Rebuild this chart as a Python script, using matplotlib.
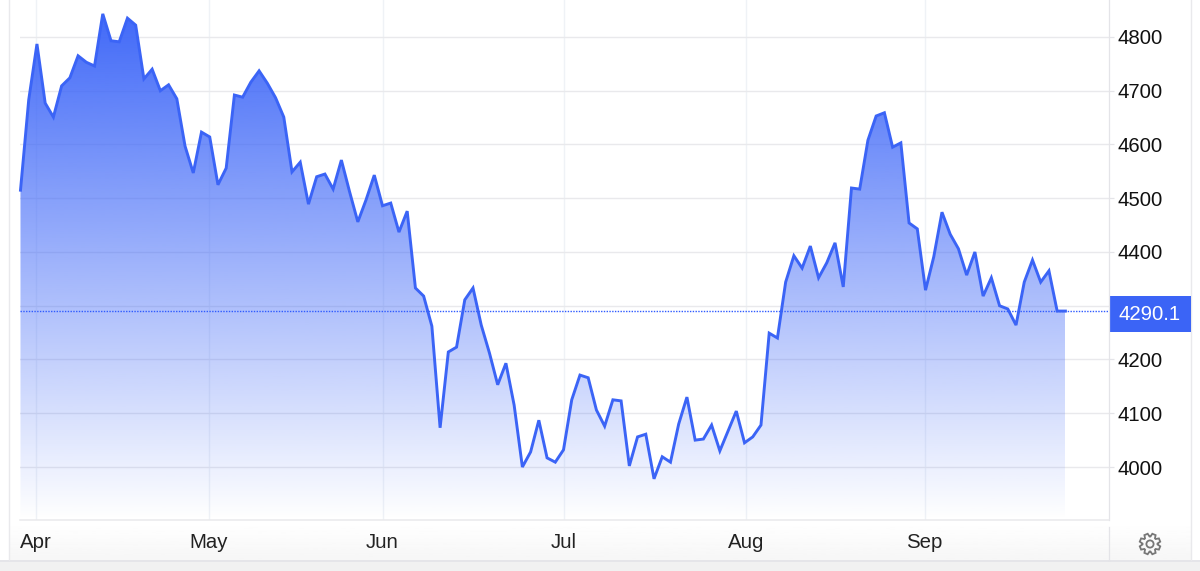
import numpy as np
import matplotlib
matplotlib.use("Agg")
import matplotlib.pyplot as plt
from matplotlib.patches import Rectangle, Circle, Polygon

plt.rcParams['font.family'] = ['Liberation Sans', 'DejaVu Sans']

values = [4515, 4683, 4787, 4677, 4651, 4709, 4724, 4765, 4753, 4746, 4843, 4793, 4791,
          4835, 4822, 4722, 4740, 4700, 4711, 4685, 4597, 4547, 4623, 4614, 4525, 4556,
          4692, 4688, 4716, 4737, 4714, 4687, 4651, 4549, 4567, 4489, 4540, 4545, 4517,
          4571, 4512, 4456, 4497, 4543, 4486, 4491, 4437, 4476, 4333, 4318, 4262, 4073,
          4214, 4223, 4311, 4333, 4264, 4212, 4153, 4193, 4115, 4000, 4028, 4087, 4017,
          4009, 4032, 4125, 4171, 4166, 4106, 4076, 4125, 4123, 4002, 4056, 4061, 3978,
          4019, 4009, 4080, 4130, 4050, 4052, 4078, 4030, 4067, 4104, 4045, 4056, 4078,
          4249, 4240, 4344, 4393, 4370, 4411, 4352, 4380, 4417, 4335, 4519, 4517, 4608,
          4653, 4659, 4595, 4603, 4454, 4443, 4329, 4391, 4474, 4433, 4406, 4357, 4400,
          4318, 4352, 4300, 4294, 4264, 4344, 4385, 4344, 4365, 4290.1, 4290.1]
month_pos = [1.9, 22.9, 44.0, 66.0, 88.2, 109.9]
month_labels = ['Apr', 'May', 'Jun', 'Jul', 'Aug', 'Sep']
y_ticks = [4000, 4100, 4200, 4300, 4400, 4500, 4600, 4700, 4800]
y_labels = ['4000', '4100', '4200', '', '4400', '4500', '4600', '4700', '4800']

blue = '#3b64f6'
x = np.arange(len(values))
ybot, ytop = 3901.4, 4868.8

fig = plt.figure(figsize=(12, 5.71), dpi=100, facecolor='w')

# page furniture, in pixel coordinates
bg = fig.add_axes([0, 0, 1, 1], zorder=0)
bg.set_xlim(0, 1200)
bg.set_ylim(571, 0)
bg.axis('off')
shade = np.linspace(1, 0.965, 40).reshape(-1, 1)
bg.imshow(shade, extent=(9, 1191, 560, 522), cmap='gray', vmin=0, vmax=1, aspect='auto')
bg.set_xlim(0, 1200)
bg.set_ylim(571, 0)
bg.add_patch(Rectangle((0, 560), 1200, 11, fc='#f1f1f1', ec='none'))
bg.plot([0, 1200], [560.5, 560.5], color='#e3e3e8', lw=1.2)
bg.plot([8.5, 8.5], [0, 560], color='#e9e9ec', lw=1.0)
bg.plot([1191, 1191], [0, 560], color='#e9e9ec', lw=1.0)
bg.plot([1108.5, 1108.5], [527, 560], color='#e4e4e8', lw=0.9)

# label of the last value
bg.add_patch(Rectangle((1109, 296), 82, 36, fc=blue, ec='none', zorder=5))
bg.text(1150, 315, str(values[-1]), color='w', fontsize=14.7, ha='center', va='center', zorder=6)

# gear icon
ang = np.linspace(0, 2 * np.pi, 8, endpoint=False) + np.pi / 8
pts = []
for a in ang:
    for da, r in [(-0.33, 7.5), (-0.17, 10.5), (0.17, 10.5), (0.33, 7.5)]:
        pts.append((1150 + r * np.cos(a + da), 544 + r * np.sin(a + da)))
bg.add_patch(Polygon(pts, closed=True, fc='none', ec='#777777', lw=1.3))
bg.add_patch(Circle((1150, 544), 3.6, fc='none', ec='#777777', lw=1.3))

ax = fig.add_axes([20 / 1200, 51 / 571, 1089 / 1200, 520 / 571], zorder=1)
ax.patch.set_alpha(0)

# gradient under the line
poly = ax.fill_between(x, values, ybot, facecolor='none', edgecolor='none')
grad = np.zeros((256, 1, 4))
grad[:, 0, 0] = 0x3d / 255
grad[:, 0, 1] = 0x66 / 255
grad[:, 0, 2] = 0xf8 / 255
grad[:, 0, 3] = np.linspace(0.98, 0, 256)
im = ax.imshow(grad, extent=(x[0], x[-1], ybot, max(values)), aspect='auto', zorder=1)
im.set_clip_path(poly.get_paths()[0], transform=ax.transData)

ax.plot(x, values, color=blue, lw=2.1, solid_joinstyle='miter', zorder=3, clip_on=False)
ax.plot([-0.1, 132.3], [values[-1], values[-1]], color='#2f5bff', lw=1.0, ls=(0, (1, 1)), zorder=2)

ax.set_xlim(-0.06, 132.3)
ax.set_ylim(ybot, ytop)
ax.set_xticks(month_pos)
ax.set_xticklabels(month_labels)
ax.yaxis.tick_right()
ax.set_yticks(y_ticks)
ax.set_yticklabels(y_labels)
ax.tick_params(axis='x', length=0, pad=9.5, labelsize=14.7, labelcolor='#222222')
ax.tick_params(axis='y', length=3.5, width=0.9, color='#e4e4e8', pad=2.5, labelsize=14.7, labelcolor='#111111')
ax.yaxis.get_major_ticks()[3].tick2line.set_visible(False)
ax.set_axisbelow(True)
ax.grid(axis='y', color='#e9e9ec', lw=1.0)
ax.grid(axis='x', color='#eff2f6', lw=1.0)
for s in ['top', 'left']:
    ax.spines[s].set_visible(False)
ax.spines['right'].set_color('#e4e4e8')
ax.spines['right'].set_linewidth(0.9)
ax.spines['bottom'].set_color('#e9e9ec')
ax.spines['bottom'].set_linewidth(1.1)

fig.savefig('out.png', dpi=100)
